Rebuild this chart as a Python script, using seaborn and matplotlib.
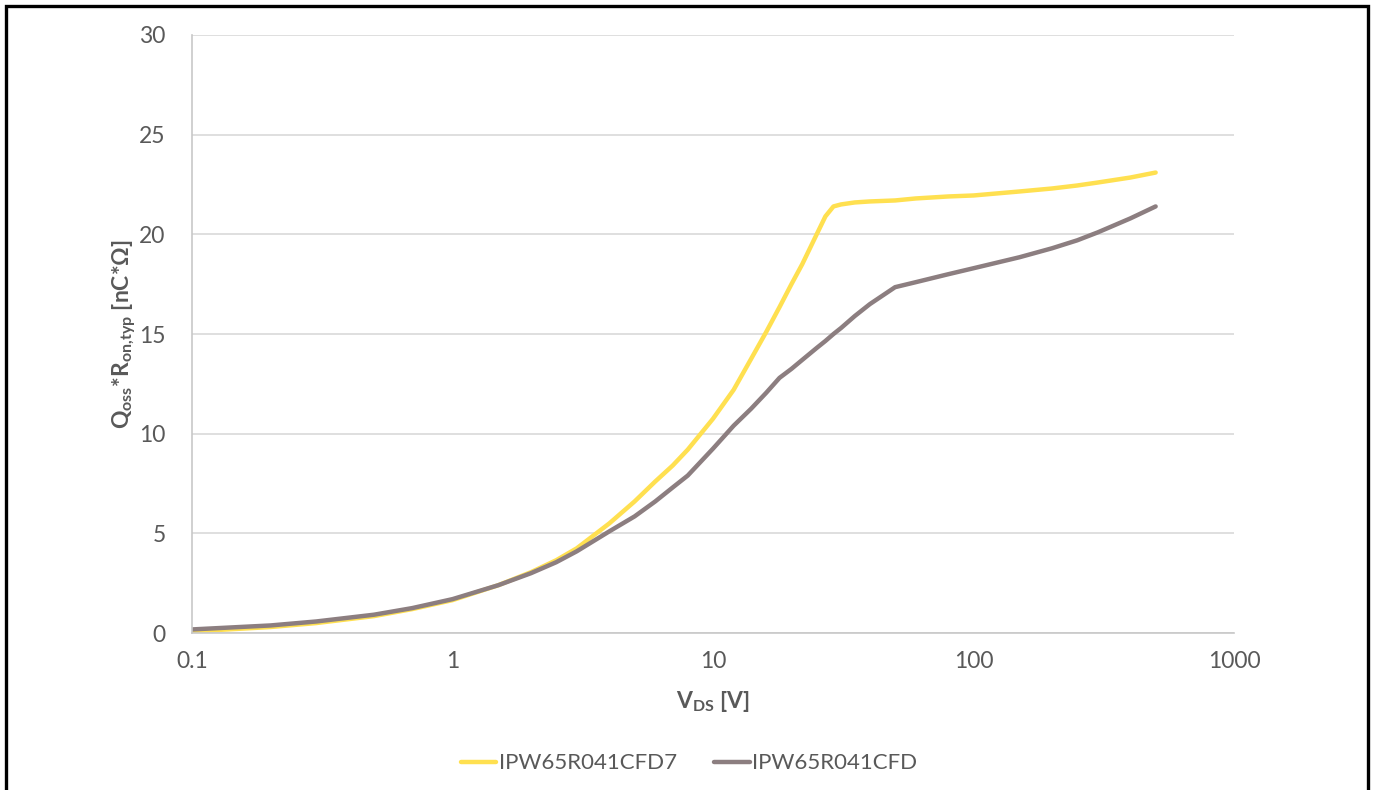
import matplotlib
matplotlib.use("Agg")
import matplotlib.pyplot as plt
import seaborn as sns
import pandas as pd
from matplotlib.patches import Rectangle

# ---- data ----
vds = [0.1, 0.2, 0.3, 0.5, 0.7, 1, 1.5, 2, 2.5, 3, 4, 5, 6, 7, 8, 10, 12, 14, 16, 18,
       20, 22, 25, 27, 29, 31, 35, 40, 50, 60, 80, 100, 150, 200, 250, 300, 400, 500]
cfd7 = [0.08, 0.3, 0.5, 0.85, 1.2, 1.65, 2.4, 3.05, 3.65, 4.25, 5.5, 6.6, 7.6, 8.4, 9.2,
        10.75, 12.2, 13.75, 15.1, 16.35, 17.5, 18.5, 20.0, 20.9, 21.4, 21.5, 21.6, 21.65,
        21.7, 21.8, 21.9, 21.95, 22.15, 22.3, 22.45, 22.6, 22.85, 23.1]
cfd = [0.18, 0.38, 0.58, 0.92, 1.25, 1.7, 2.4, 3.0, 3.55, 4.1, 5.1, 5.85, 6.6, 7.3, 7.9,
       9.25, 10.4, 11.25, 12.05, 12.8, 13.25, 13.7, 14.3, 14.65, 15.0, 15.3, 15.9, 16.5,
       17.35, 17.6, 18.0, 18.3, 18.85, 19.3, 19.7, 20.1, 20.8, 21.4]
series_names = ["IPW65R041CFD7", "IPW65R041CFD"]
colors = ["#FFE050", "#8C7E80"]
y_ticks = [0, 5, 10, 15, 20, 25, 30]
x_ticks = [0.1, 1, 10, 100, 1000]
x_tick_labels = ["0.1", "1", "10", "100", "1000"]

df = pd.concat([
    pd.DataFrame({"VDS": vds, "Q": cfd7, "device": series_names[0]}),
    pd.DataFrame({"VDS": vds, "Q": cfd, "device": series_names[1]}),
])

sns.set_theme(style="white")
plt.rcParams["font.family"] = ["Lato", "DejaVu Sans"]
plt.rcParams["mathtext.fontset"] = "custom"
plt.rcParams["mathtext.rm"] = "Lato"
plt.rcParams["mathtext.bf"] = "Lato:bold"
plt.rcParams["mathtext.it"] = "Lato:italic"

fig = plt.figure(figsize=(13.75, 7.9), dpi=100)
ax = fig.add_axes([0.1396, 0.1987, 0.7579, 0.757])

sns.lineplot(data=df, x="VDS", y="Q", hue="device", palette=colors,
             hue_order=series_names, linewidth=3.2, ax=ax, legend=True,
             solid_capstyle="round")

ax.set_xscale("log")
ax.set_xlim(0.1, 1000)
ax.set_ylim(0, 30)
ax.set_yticks(y_ticks)
ax.set_xticks(x_ticks)
ax.set_xticklabels(x_tick_labels)
ax.minorticks_off()
ax.tick_params(axis="both", length=0, labelsize=16.5, labelcolor="#595959")
ax.tick_params(axis="x", pad=13)
ax.tick_params(axis="y", pad=19)
ax.grid(axis="y", color="#d9d9d9", linewidth=1.2)
ax.grid(axis="x", visible=False)
for s in ["top", "right"]:
    ax.spines[s].set_visible(False)
for s in ["left", "bottom"]:
    ax.spines[s].set_color("#c8c8c8")
    ax.spines[s].set_linewidth(1.2)

ax.set_xlabel(r"V$_{\mathbf{DS}}$ [V]", fontsize=16.5, fontweight="bold",
              color="#595959", labelpad=12)
ax.set_ylabel(r"Q$_{\mathbf{oss}}$*R$_{\mathbf{on{,}typ}}$ [nC*Ω]", fontsize=16.5,
              fontweight="bold", color="#595959", labelpad=1)

leg = ax.legend(loc="upper center", bbox_to_anchor=(0.477, -0.168), ncol=2,
                frameon=False, fontsize=16, handlelength=1.6, handletextpad=0.1,
                columnspacing=1.7)
for t in leg.get_texts():
    t.set_color("#595959")
for h in leg.get_lines():
    h.set_linewidth(3.2)

fig.patches.append(Rectangle((6 / 1375, -0.02), (1368 - 6) / 1375, 1.02 - 6 / 790,
                             transform=fig.transFigure, fill=False,
                             edgecolor="black", linewidth=2.4))

fig.savefig("out.png", dpi=100)
